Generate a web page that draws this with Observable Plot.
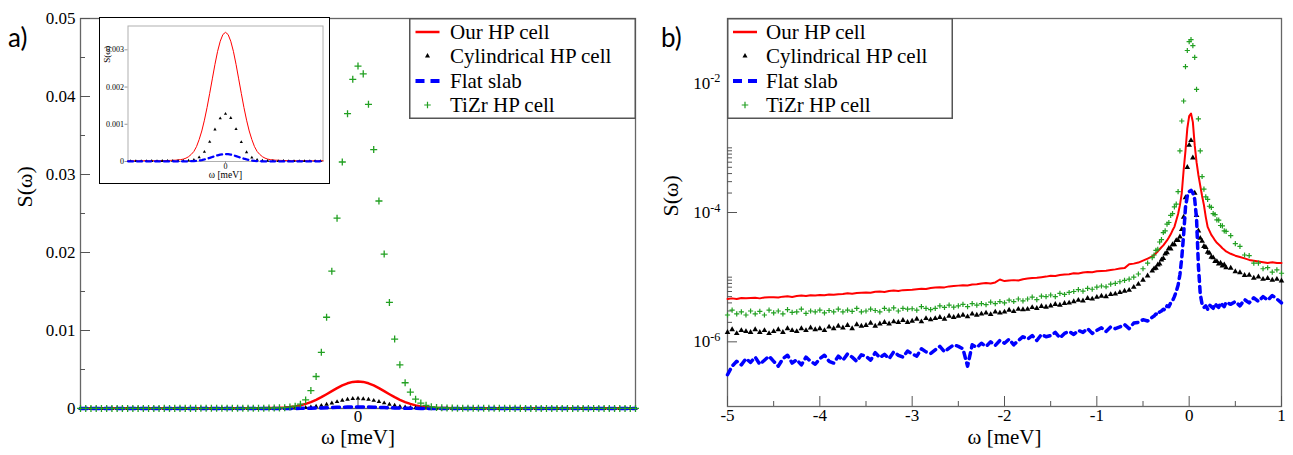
<!DOCTYPE html>
<html><head><meta charset="utf-8">
<script src="https://cdn.jsdelivr.net/npm/d3@7"></script>
<script src="https://cdn.jsdelivr.net/npm/@observablehq/plot@0.6"></script>
<style>
html,body{margin:0;padding:0;background:#fff;}
#wrap{position:relative;width:1293px;height:455px;overflow:hidden;}
.plab{position:absolute;font-family:Lato,"Open Sans",sans-serif;font-size:26px;color:#000;line-height:1;}
svg text{font-family:"Liberation Serif","Times New Roman","DejaVu Serif",serif;}
</style></head><body><div id="wrap"></div>
<script>
// ---------- DATA (values in units of 1e-6) ----------
const UNIT = 1e-6;
const seriesNames = ["Our HP cell", "Cylindrical HP cell", "Flat slab", "TiZr HP cell"];

// Panel a: energy grid (meV) and the four series
const omegaA = [-0.53,-0.52,-0.51,-0.5,-0.49,-0.48,-0.47,-0.46,-0.45,-0.44,
-0.43,-0.42,-0.41,-0.4,-0.39,-0.38,-0.37,-0.36,-0.35,-0.34,
-0.33,-0.32,-0.31,-0.3,-0.29,-0.28,-0.27,-0.26,-0.25,-0.24,
-0.23,-0.22,-0.21,-0.2,-0.19,-0.18,-0.17,-0.16,-0.15,-0.14,
-0.13,-0.12,-0.11,-0.1,-0.09,-0.08,-0.07,-0.06,-0.05,-0.04,
-0.03,-0.02,-0.01,0,0.01,0.02,0.03,0.04,0.05,0.06,
0.07,0.08,0.09,0.1,0.11,0.12,0.13,0.14,0.15,0.16,
0.17,0.18,0.19,0.2,0.21,0.22,0.23,0.24,0.25,0.26,
0.27,0.28,0.29,0.3,0.31,0.32,0.33,0.34,0.35,0.36,
0.37,0.38,0.39,0.4,0.41,0.42,0.43,0.44,0.45,0.46,
0.47,0.48,0.49,0.5,0.51,0.52,0.53];
const ourHPa = [17,17,17,18,17,18,18,18,18,19,18,19,19,19,20,19,20,20,21,20,21,21,22,22,22,23,23,24,24,
25,26,27,29,32,36,42,50,65,90,130,190,270,400,590,820,1110,1450,1830,2220,2610,2960,3230,3410,
3470,
3410,3230,2960,2610,2220,1830,1450,1110,820,590,400,270,190,130,90,65,50,42,36,32,29,27,26,25,
24,24,23,23,22,22,22,21,21,20,21,20,20,19,20,19,19,19,18,19,18,18,18,18,17,18,17,17,17];
const cylHPa = [9,11,10,9,12,10,11,9,10,12,11,10,9,11,12,10,11,13,10,12,11,12,13,11,12,14,12,13,12,14,13,15,13,14,16,14,15,17,
19,24,32,45,70,110,170,260,380,530,690,860,1030,1160,1250,
1280,
1240,1170,1020,870,700,520,390,250,175,105,72,44,33,23,20,
16,15,14,16,13,14,15,12,13,14,12,13,11,12,13,11,12,10,11,12,10,11,12,10,9,11,10,12,9,10,11,9,10,12,9,10,11,9];
const flatSlabA = [3,4,3,4,4,3,4,4,3,4,3,4,3,4,4,3,4,4,3,4,3,4,3,4,4,3,4,4,3,4,3,4,3,4,4,3,4,4,3,5,
8,12,18,27,39,56,75,97,121,145,167,185,196,
200,
196,185,167,145,121,97,75,56,39,27,18,12,8,
5,3,4,4,3,4,3,4,4,3,4,3,4,4,3,4,3,4,4,3,4,3,4,4,3,4,3,4,4,3,4,3,4,4,3,4,3,4,4,3];
const tizrA = [10,11,10,12,11,10,12,11,13,12,12,13,12,14,13,14,15,14,16,15,16,17,16,18,19,18,20,21,22,24,26,28,31,35,40,45,52,62,80,
110,180,300,550,1100,2300,4100,7200,11700,17600,24400,31600,37800,42200,
43900,
42900,39000,33200,26600,19800,13600,8900,5600,3300,2100,1200,700,400,220,130,
85,65,52,43,36,31,27,24,22,20,19,18,17,16,16,15,14,14,13,13,12,13,12,11,12,11,11,10,11,10,10,11,10,9,10,10,9,10];

// Panel b: energy grid (meV) and the four series
const omegaB = [-5,-4.95,-4.9,-4.85,-4.8,-4.75,-4.7,-4.65,-4.6,-4.55,-4.5,-4.45,-4.4,-4.35,-4.3,-4.25,-4.2,-4.15,-4.1,-4.05,
-4,-3.95,-3.9,-3.85,-3.8,-3.75,-3.7,-3.65,-3.6,-3.55,-3.5,-3.45,-3.4,-3.35,-3.3,-3.25,-3.2,-3.15,-3.1,-3.05,
-3,-2.95,-2.9,-2.85,-2.8,-2.75,-2.7,-2.65,-2.6,-2.55,-2.5,-2.45,-2.4,-2.35,-2.3,-2.25,-2.2,-2.15,-2.1,-2.05,
-2,-1.95,-1.9,-1.85,-1.8,-1.75,-1.7,-1.65,-1.6,-1.55,-1.5,-1.45,-1.4,-1.35,-1.3,-1.25,-1.2,-1.15,-1.1,-1.05,
-1,-0.95,-0.9,-0.85,-0.8,-0.75,-0.7,-0.65,-0.6,-0.55,-0.5,-0.45,-0.4,
-0.38,-0.36,-0.34,-0.32,-0.3,-0.28,-0.26,-0.24,-0.22,-0.2,-0.18,-0.16,-0.14,-0.12,-0.1,-0.08,-0.06,-0.04,-0.02,0,
0.02,0.04,0.06,0.08,0.1,0.12,0.14,0.16,0.18,0.2,0.22,0.24,0.26,0.28,0.3,0.32,0.34,0.36,0.38,0.4,
0.45,0.5,0.55,0.6,0.65,0.7,0.75,0.8,0.85,0.9,0.95,1];
const ourHPb = [4.6,4.7,4.6,4.75,4.7,4.75,4.8,4.7,4.85,4.9,4.9,4.85,5.0,5.05,4.95,5.1,5.2,5.1,5.25,5.2,
5.3,5.25,5.4,5.35,5.45,5.5,5.65,5.55,5.7,5.75,5.8,5.75,5.95,6.0,5.9,6.1,6.2,6.1,6.3,6.35,
6.4,6.5,6.6,6.55,6.8,6.9,7.0,6.95,7.2,7.3,7.4,7.5,7.45,7.7,7.8,8.0,8.1,8.0,8.3,9.2,
8.7,8.9,9.0,8.9,9.3,9.5,9.7,9.8,10.0,10.2,10.5,10.4,10.8,11.0,11.1,11.5,11.4,11.8,12.0,11.9,
12.3,12.5,12.6,12.9,13.2,13.6,13.8,15.8,16.2,16.8,18,19.3,21,
22,23.5,25,27,29,31,34,37,41,46,53,60,75,95,130,200,450,900,2000,3100,
3400,2500,1100,600,380,260,180,130,85,60,52,45,41,37,34,32,30,28,26.5,25,
23,21.5,20.5,19.5,18.5,18,17.5,17,16.5,17,16.5,16.5];
const cylHPb = [1.4,1.55,1.35,1.5,1.45,1.4,1.55,1.4,1.5,1.35,1.45,1.55,1.4,1.6,1.5,1.45,1.6,1.5,1.65,1.55,
1.6,1.5,1.7,1.6,1.75,1.65,1.8,1.6,1.85,1.75,1.8,1.95,1.75,1.9,2.0,1.9,2.05,2.0,2.15,2.0,
2.1,2.25,2.05,2.3,2.2,2.3,2.4,2.25,2.5,2.4,2.5,2.6,2.45,2.7,2.6,2.7,2.8,2.65,2.9,2.8,
2.9,3.1,2.95,3.2,3.15,3.2,3.4,3.3,3.55,3.45,3.6,3.8,3.7,3.95,4.0,4.2,4.4,4.3,4.7,4.6,
4.9,5.1,5.0,5.4,5.5,5.8,6.1,6.3,7.0,7.8,9.0,10.5,12.5,
13.5,13.8,15.5,16,18.5,19.5,23,24,28,27.5,32,32,37,37,42,55,85,170,500,1100,
1300,700,200,90,52,40,36,30,29,24.5,23.5,20.5,20,17.5,17.5,16,16.5,15,15.5,14,
13.8,12.2,11.8,10.7,10.8,9.7,10.1,9.3,9.6,9.0,9.3,8.8];
const flatSlabB = [0.31,0.42,0.5,0.44,0.55,0.48,0.58,0.45,0.52,0.6,0.5,0.42,0.55,0.62,0.47,0.53,0.44,0.58,0.5,0.45,
0.55,0.62,0.5,0.47,0.6,0.52,0.65,0.58,0.5,0.63,0.6,0.52,0.68,0.57,0.64,0.55,0.7,0.62,0.58,0.72,
0.65,0.6,0.78,0.7,0.66,0.75,0.85,0.7,0.8,0.9,0.85,0.78,0.42,0.9,0.82,0.95,0.85,1.0,0.88,1.05,
0.95,1.1,0.9,1.05,1.2,1.1,1.25,1.05,1.3,1.2,1.25,1.4,1.15,1.35,1.45,1.3,1.5,1.4,1.6,1.35,
1.5,1.65,1.45,1.7,1.6,1.7,1.85,1.6,1.95,2.0,2.2,2.1,2.4,
2.5,2.7,2.6,2.9,3.0,3.2,3.1,3.6,3.5,4.0,4.3,5.0,6.0,7.5,11,20,45,120,180,210,
220,200,160,80,15,5.5,3.8,3.4,3.6,3.2,3.7,3.5,3.3,3.9,3.6,3.4,4.0,3.7,3.5,4.1,
3.8,4.2,3.6,4.5,4.0,4.8,4.2,5.0,4.4,5.2,4.6,4.0];
const tizrB = [2.6,3.1,2.7,2.9,2.6,3.0,2.7,2.95,2.6,3.1,2.8,3.0,2.7,3.15,2.85,2.9,3.2,2.75,3.0,2.9,
3.1,2.8,3.05,2.9,3.2,2.9,3.1,2.95,3.3,2.9,3.0,3.2,3.05,2.9,3.3,3.1,3.35,3.0,3.3,3.2,
3.25,3.1,3.5,3.3,3.15,3.3,3.6,3.4,3.7,3.45,3.6,3.8,3.5,3.9,3.7,3.9,3.75,4.1,3.9,4.2,
4.0,4.4,4.2,4.6,4.3,4.6,4.9,4.5,5.1,5.0,5.3,5.0,5.6,5.4,5.8,6.0,6.4,6.1,6.7,6.5,
7.0,7.3,7.1,7.8,8.0,8.5,8.9,9.3,10.0,11.2,13.5,16.5,20,
22,26,27,35,38,49,52,66,70,90,96,122,135,210,900,2600,5300,18000,32000,44000,
47000,38000,25000,8000,2800,900,360,230,175,160,125,120,96,93,77,76,63,62,52,51,
44,33,30,22,21.5,16.5,16.5,13.5,14,12,13,11.5];

// Ticks
const yTicksA = [0, 0.01, 0.02, 0.03, 0.04, 0.05];
const yMinorA = [0.005, 0.015, 0.025, 0.035, 0.045];
const xTicksA = [0];
const yTicksInset = [0, 0.001, 0.002, 0.003];
const xTicksInset = [0];
const xTicksB = [-5, -4, -3, -2, -1, 0, 1];
const xMinorB = [-4.5, -3.5, -2.5, -1.5, -0.5, 0.5];
const yTicksB = [1e-6, 1e-4, 1e-2];
const yMinorB = [2e-6,3e-6,4e-6,5e-6,6e-6,7e-6,8e-6,9e-6,1e-5,
                 2e-4,3e-4,4e-4,5e-4,6e-4,7e-4,8e-4,9e-4,1e-3,
                 2e-2,3e-2,4e-2,5e-2,6e-2,7e-2,8e-2,9e-2,1e-1];

// ---------- build tables ----------
const tab = (xs, ys) => xs.map((x, i) => ({x, y: ys[i] * UNIT, i}));
const A = {red: tab(omegaA, ourHPa), cyl: tab(omegaA, cylHPa), flat: tab(omegaA, flatSlabA), tizr: tab(omegaA, tizrA)};
const B = {red: tab(omegaB, ourHPb), cyl: tab(omegaB, cylHPb), flat: tab(omegaB, flatSlabB), tizr: tab(omegaB, tizrB)};
const inRange = d => Math.abs(d.x) <= 0.3700001;
const I = {red: A.red.filter(inRange), cyl: A.cyl.filter(d => inRange(d) && Math.round(d.x * 100) % 2 === 0), flat: A.flat.filter(inRange)};

const RED = "#ff0000", BLUE = "#0000ff", GREEN = "#22a022", BLACK = "#000000", AX = "#555555";
const SERIF = "Liberation Serif, Times New Roman, DejaVu Serif, serif";
const SANS = "Lato, Open Sans, sans-serif";
const wrap = document.getElementById("wrap");

function place(node, left, top) {
  node.style.position = "absolute";
  node.style.left = left + "px";
  node.style.top = top + "px";
  wrap.appendChild(node);
  return node;
}

// ---------- Panel a ----------
const plotA = Plot.plot({
  width: 650, height: 455,
  marginLeft: 80, marginRight: 15, marginTop: 18, marginBottom: 47,
  x: {domain: [-0.53, 0.53]},
  y: {domain: [0, 0.05]},
  style: {fontFamily: SERIF, fontSize: "17px", background: "white", color: "black", overflow: "visible"},
  marks: [
    Plot.frame({stroke: "#666", strokeWidth: 1.3}),
    Plot.axisY(yTicksA, {tickSize: -10, tickPadding: 15, stroke: AX, fill: "black", label: null, tickFormat: d => d === 0 ? "0" : d.toFixed(2)}),
    Plot.axisY(yMinorA, {tickSize: -5, stroke: AX, label: null, tickFormat: () => ""}),
    Plot.axisX(xTicksA, {tickSize: -8, tickPadding: 9, stroke: AX, fill: "black", label: null, tickFormat: d => String(d)}),
    Plot.line(A.red, {x: "x", y: "y", stroke: RED, strokeWidth: 2.5}),
    Plot.dot(A.cyl, {x: "x", y: "y", symbol: "triangle", r: 1.7, fill: BLACK, stroke: "none"}),
    Plot.line(A.flat, {x: "x", y: "y", stroke: BLUE, strokeWidth: 3.5, strokeDasharray: "7,5"}),
    Plot.dot(A.tizr, {x: "x", y: "y", symbol: "plus", r: 2.4, fill: "none", stroke: GREEN, strokeWidth: 1.3}),
    Plot.text(["ω [meV]"], {frameAnchor: "bottom", dy: 35, fontSize: 21, fontFamily: SERIF}),
    Plot.text(["S(ω)"], {frameAnchor: "left", dx: -56, dy: -6, rotate: -90, fontSize: 22, fontFamily: SANS})
  ]
});
place(plotA, 0, 0);

// ---------- Inset ----------
const insetBox = document.createElement("div");
insetBox.style.cssText = "width:231px;height:167px;border:1.5px solid #000;box-sizing:border-box;background:#fff;";
const plotI = Plot.plot({
  width: 228, height: 164,
  marginLeft: 27.5, marginRight: 5.5, marginTop: 7.5, marginBottom: 21,
  x: {domain: [-0.37, 0.37]},
  y: {domain: [0, 0.00364]},
  style: {fontFamily: SERIF, fontSize: "8px", background: "white", color: "black", overflow: "visible"},
  marks: [
    Plot.frame({stroke: "#b0b0b0", strokeWidth: 1}),
    Plot.axisY(yTicksInset, {tickSize: 3, tickPadding: 1, stroke: "#999", fill: "black", label: null, tickFormat: d => d === 0 ? "0" : d.toFixed(3)}),
    Plot.axisX(xTicksInset, {tickSize: 2, tickPadding: 0, stroke: "#999", fill: "black", fontSize: 8, label: null, tickFormat: d => String(d)}),
    Plot.line(I.red, {x: "x", y: "y", stroke: RED, strokeWidth: 1}),
    Plot.dot(I.cyl, {x: "x", y: "y", symbol: "triangle", r: 1.2, fill: BLACK, stroke: "none"}),
    Plot.line(I.flat, {x: "x", y: "y", stroke: BLUE, strokeWidth: 2.3, strokeDasharray: "5,4"}),
    Plot.text(["ω [meV]"], {frameAnchor: "bottom", dy: 16, fontSize: 9.5, fontFamily: SERIF}),
    Plot.text(["S(ω)"], {frameAnchor: "left", dx: -21, dy: -31, rotate: -90, fontSize: 9, fontFamily: SERIF})
  ]
});
insetBox.appendChild(plotI);
place(insetBox, 99, 17);

// ---------- Panel b ----------
const plotB = Plot.plot({
  width: 643, height: 455,
  marginLeft: 77, marginRight: 12, marginTop: 18, marginBottom: 49,
  x: {domain: [-5, 1]},
  y: {type: "log", domain: [1e-7, 1e-1]},
  style: {fontFamily: SERIF, fontSize: "17px", background: "white", color: "black", overflow: "visible"},
  marks: [
    Plot.frame({stroke: "#666", strokeWidth: 1.3}),
    Plot.axisY(yTicksB, {tickSize: -10, tickPadding: 17, stroke: AX, fill: "black", label: null, tickFormat: d => "10^" + Math.round(Math.log10(d))}),
    Plot.axisY(yMinorB, {tickSize: -5, stroke: AX, label: null, tickFormat: () => ""}),
    Plot.axisX(xTicksB, {tickSize: -10, tickPadding: 12, stroke: AX, fill: "black", label: null, tickFormat: d => String(d)}),
    Plot.axisX(xMinorB, {tickSize: -5, stroke: AX, label: null, tickFormat: () => ""}),
    Plot.line(B.red, {x: "x", y: "y", stroke: RED, strokeWidth: 2}),
    Plot.dot(B.cyl, {x: "x", y: "y", symbol: "triangle", r: 2.1, fill: BLACK, stroke: "none"}),
    Plot.line(B.flat, {x: "x", y: "y", stroke: BLUE, strokeWidth: 3.5, strokeDasharray: "6,5"}),
    Plot.dot(B.tizr, {x: "x", y: "y", symbol: "plus", r: 1.8, fill: "none", stroke: GREEN, strokeWidth: 1.2}),
    Plot.text(["ω [meV]"], {frameAnchor: "bottom", dy: 37, fontSize: 21, fontFamily: SERIF}),
    Plot.text(["S(ω)"], {frameAnchor: "left", dx: -57, dy: 4, rotate: -90, fontSize: 22, fontFamily: SANS})
  ]
});
// superscript exponents on log tick labels
d3.select(plotB).selectAll("text").each(function() {
  const m = /^10\^(-?\d+)$/.exec(this.textContent);
  if (m) {
    const s = d3.select(this);
    s.text("");
    s.append("tspan").text("10");
    s.append("tspan").attr("dy", "-0.5em").attr("font-size", "0.72em").text(m[1]);
  }
});
place(plotB, 650, 0);

// ---------- Legends ----------
function makeLegend(left, top, width, height, symCx, textX, baselines) {
  const svg = d3.create("svg").attr("width", width).attr("height", height);
  svg.append("rect").attr("x", 0.75).attr("y", 0.75).attr("width", width - 1.5).attr("height", height - 1.5)
    .attr("fill", "#fff").attr("stroke", "#555").attr("stroke-width", 1.5);
  seriesNames.forEach((name, i) => {
    const b = baselines[i], cy = b - 7;
    if (i === 0) svg.append("line").attr("x1", symCx - 12).attr("x2", symCx + 12).attr("y1", cy).attr("y2", cy).attr("stroke", RED).attr("stroke-width", 2.5);
    if (i === 1) svg.append("path").attr("d", d3.symbol(d3.symbolTriangle, 11)()).attr("transform", `translate(${symCx},${cy})`).attr("fill", BLACK);
    if (i === 2) svg.append("line").attr("x1", symCx - 12).attr("x2", symCx + 12).attr("y1", cy).attr("y2", cy).attr("stroke", BLUE).attr("stroke-width", 4).attr("stroke-dasharray", "9,6");
    if (i === 3) svg.append("path").attr("d", d3.symbol(d3.symbolPlus, 16)()).attr("transform", `translate(${symCx},${cy})`).attr("fill", "none").attr("stroke", GREEN).attr("stroke-width", 1.2);
    svg.append("text").attr("x", textX).attr("y", b).attr("font-size", 21).attr("fill", "#000").text(name);
  });
  place(svg.node(), left, top);
}
makeLegend(409, 18, 227, 101, 18.5, 41, [21, 45, 70, 94]);
makeLegend(727, 18, 226, 101, 18, 39, [21, 45, 70, 94]);

// ---------- panel tags ----------
const ta = document.createElement("div"); ta.className = "plab"; ta.textContent = "a)"; place(ta, 8, 24);
const tb = document.createElement("div"); tb.className = "plab"; tb.textContent = "b)"; place(tb, 661, 24);
</script></body></html>
